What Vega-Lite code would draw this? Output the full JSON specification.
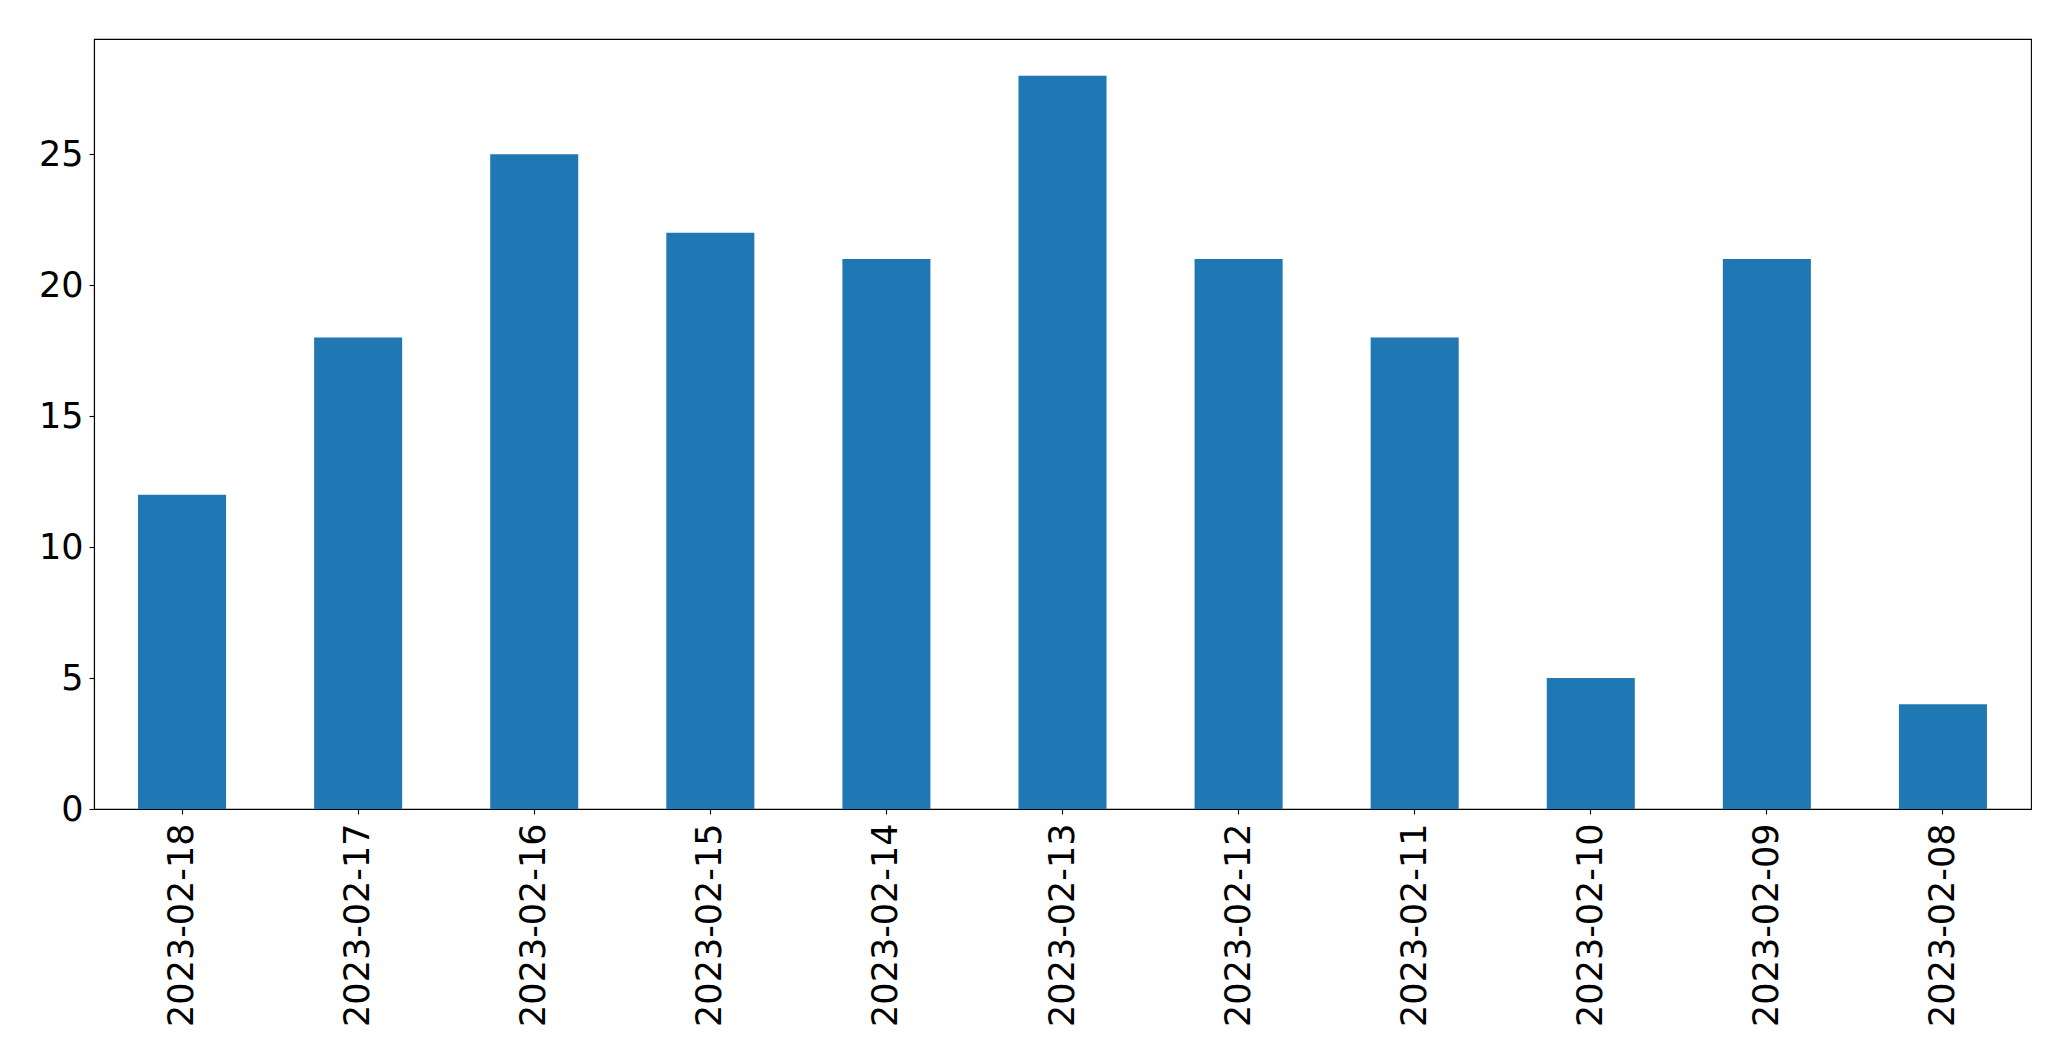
{
  "$schema": "https://vega.github.io/schema/vega-lite/v6.json",
  "width": 1937,
  "height": 770,
  "autosize": {"type": "none"},
  "padding": {"left": 94, "top": 39, "right": 40, "bottom": 252},
  "background": "white",
  "config": {
    "view": {"stroke": "black", "strokeWidth": 1.1},
    "axis": {
      "labelFont": "DejaVu Sans",
      "labelFontSize": 35,
      "labelColor": "black",
      "labelLimit": 0,
      "domainColor": "black",
      "domainWidth": 1.1,
      "tickColor": "black",
      "tickWidth": 1.1,
      "tickSize": 5,
      "grid": false,
      "title": null
    }
  },
  "data": {
    "values": [
      {"date": "2023-02-18", "count": 12},
      {"date": "2023-02-17", "count": 18},
      {"date": "2023-02-16", "count": 25},
      {"date": "2023-02-15", "count": 22},
      {"date": "2023-02-14", "count": 21},
      {"date": "2023-02-13", "count": 28},
      {"date": "2023-02-12", "count": 21},
      {"date": "2023-02-11", "count": 18},
      {"date": "2023-02-10", "count": 5},
      {"date": "2023-02-09", "count": 21},
      {"date": "2023-02-08", "count": 4}
    ]
  },
  "mark": {"type": "bar", "color": "#1f77b4"},
  "encoding": {
    "x": {
      "field": "date",
      "type": "nominal",
      "sort": null,
      "scale": {"paddingInner": 0.5, "paddingOuter": 0.25},
      "axis": {"labelAngle": -90, "labelPadding": 9}
    },
    "y": {
      "field": "count",
      "type": "quantitative",
      "scale": {"domain": [0, 29.4], "nice": false, "zero": true},
      "axis": {"values": [0, 5, 10, 15, 20, 25], "labelPadding": 6}
    }
  }
}
